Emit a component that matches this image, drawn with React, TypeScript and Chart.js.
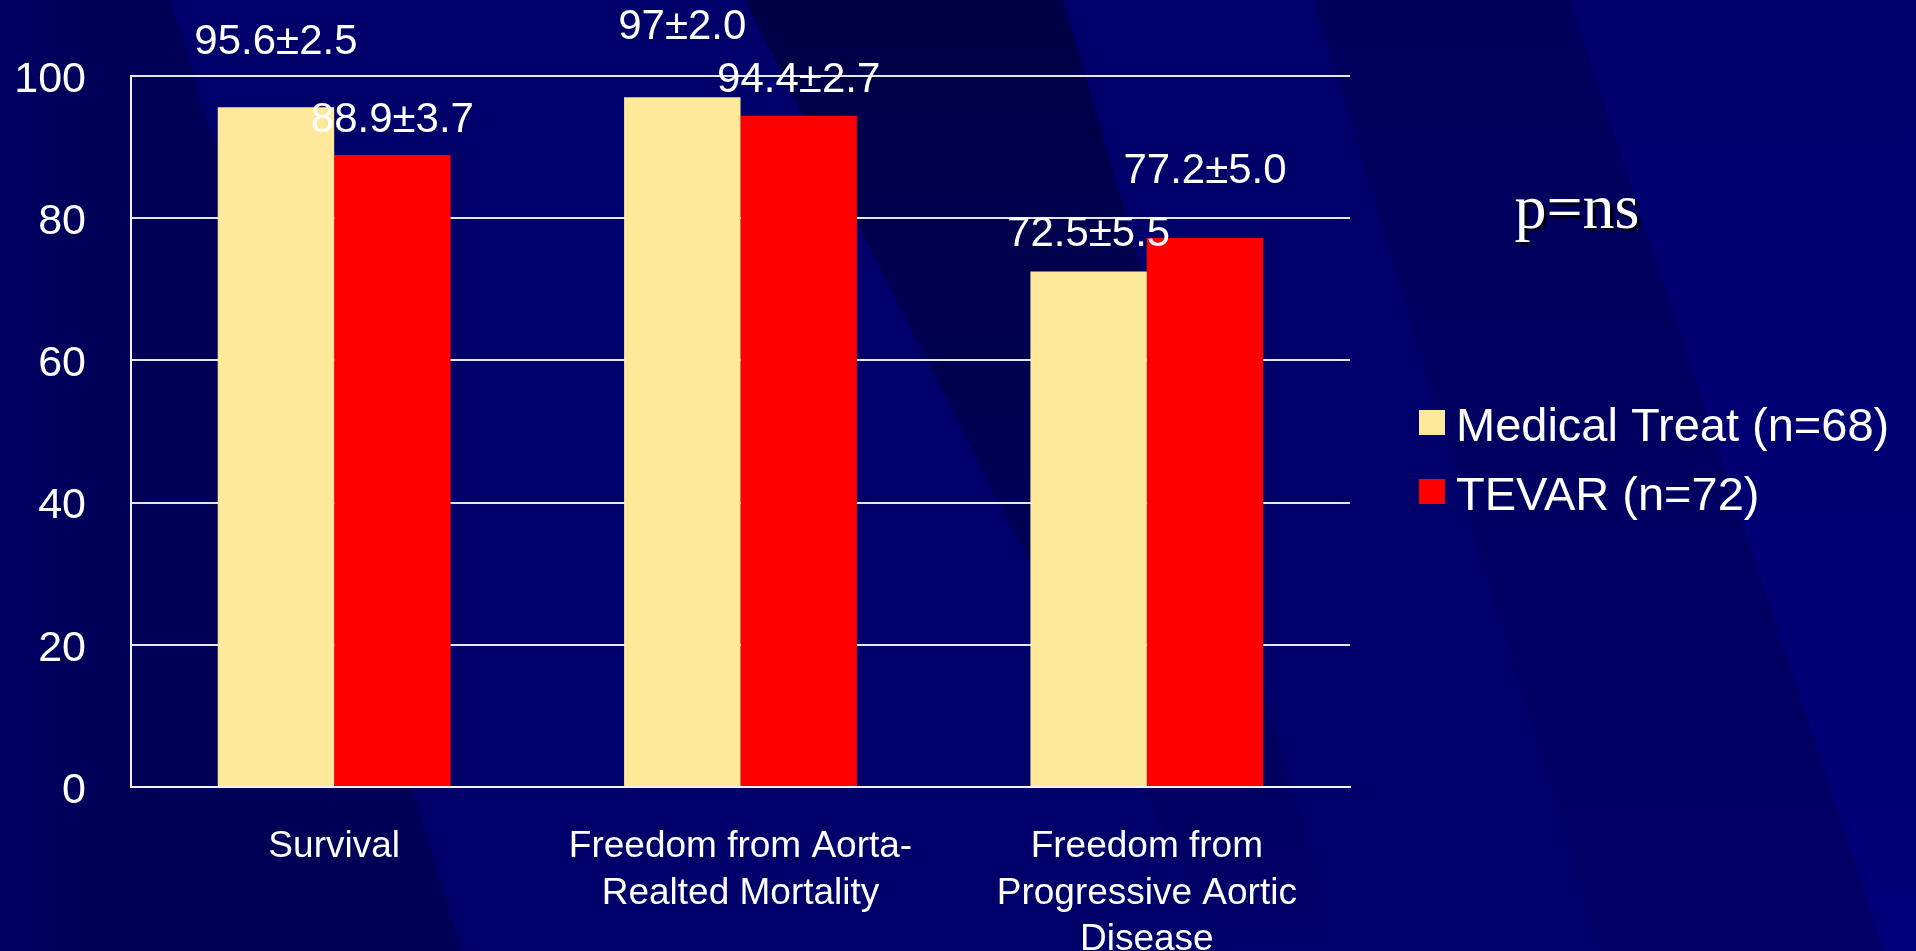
import { useEffect, useRef } from "react";
import { Chart, registerables } from "chart.js";

Chart.register(...registerables);

// Outcome categories (multi-line axis labels)
const categories: string[][] = [
  ["Survival"],
  ["Freedom from Aorta-", "Realted Mortality"],
  ["Freedom from", "Progressive Aortic", "Disease"],
];

// Series
const medicalLabel = "Medical Treat (n=68)";
const tevarLabel = "TEVAR (n=72)";
const medicalValues = [95.6, 97, 72.5];
const tevarValues = [88.9, 94.4, 77.2];
const medicalErrors = [2.5, 2.0, 5.5];
const tevarErrors = [3.7, 2.7, 5.0];

// Value axis
const yMin = 0;
const yMax = 100;
const yStep = 20;

const pValueText = "p=ns";

// Vertical lift (px) of each value label above its bar
const medicalLabelLift = [65, 70, 37];
const tevarLabelLift = [34, 35, 67];

const MEDICAL_COLOR = "#FEE99B";
const TEVAR_COLOR = "#FF0000";
const SANS = '"Liberation Sans", Arial, Helvetica, sans-serif';
const SERIF = '"Liberation Serif", "Times New Roman", serif';

const W = 1916;
const H = 951;

const fmt = (v: number, e: number) => `${v}±${e.toFixed(1)}`;

// Slide backdrop: navy with diagonal bands
const backdropPlugin = {
  id: "backdrop",
  beforeDraw(chart: Chart) {
    const ctx = chart.ctx;
    ctx.save();
    ctx.fillStyle = "#00006a";
    ctx.fillRect(0, 0, W, H);

    const poly = (pts: number[][], fill: string | CanvasGradient) => {
      ctx.beginPath();
      ctx.moveTo(pts[0][0], pts[0][1]);
      for (let i = 1; i < pts.length; i++) ctx.lineTo(pts[i][0], pts[i][1]);
      ctx.closePath();
      ctx.fillStyle = fill;
      ctx.fill();
    };

    const left = ctx.createLinearGradient(0, 0, 120, 0);
    left.addColorStop(0, "#000062");
    left.addColorStop(1, "#000056");
    poly([[0, 0], [170, 0], [462, H], [0, H]], left);

    const wedge = ctx.createLinearGradient(0, 0, 0, H);
    wedge.addColorStop(0, "#000046");
    wedge.addColorStop(0.6, "#000056");
    wedge.addColorStop(1, "#00006a");
    poly([[745, 0], [1063, 0], [1339, H], [1226, H]], wedge);

    const band = ctx.createLinearGradient(0, 0, 0, H);
    band.addColorStop(0, "#00005c");
    band.addColorStop(1, "#000066");
    poly([[1314, 0], [1570, 0], [1884, H], [1600, H]], band);

    const right = ctx.createLinearGradient(0, 0, 0, H);
    right.addColorStop(0, "#00006e");
    right.addColorStop(1, "#000078");
    poly([[1570, 0], [W, 0], [W, H], [1884, H]], right);
    ctx.restore();
  },
};

// Value ± error labels above bars, the p-value note and the legend
const annotationPlugin = {
  id: "annotations",
  afterDatasetsDraw(chart: Chart) {
    const ctx = chart.ctx;
    const errors = [medicalErrors, tevarErrors];
    const lifts = [medicalLabelLift, tevarLabelLift];
    ctx.save();
    ctx.fillStyle = "#ffffff";
    ctx.textAlign = "center";
    ctx.textBaseline = "middle";
    ctx.font = `42px ${SANS}`;
    chart.data.datasets.forEach((ds, di) => {
      const meta = chart.getDatasetMeta(di);
      meta.data.forEach((bar: any, i) => {
        const v = ds.data[i] as number;
        ctx.fillText(fmt(v, errors[di][i]), bar.x, bar.y - lifts[di][i]);
      });
    });
    ctx.restore();
  },
  afterDraw(chart: Chart) {
    const ctx = chart.ctx;
    ctx.save();
    // p-value note
    ctx.font = `64px ${SERIF}`;
    ctx.textAlign = "center";
    ctx.textBaseline = "alphabetic";
    ctx.shadowColor = "rgba(0,0,0,0.85)";
    ctx.shadowOffsetX = 3;
    ctx.shadowOffsetY = 3;
    ctx.shadowBlur = 2;
    ctx.fillStyle = "#ffffff";
    ctx.fillText(pValueText, 1577, 228);
    ctx.restore();

    // legend
    ctx.save();
    ctx.font = `47px ${SANS}`;
    ctx.textAlign = "left";
    ctx.textBaseline = "alphabetic";
    const rows = [
      { top: 410, base: 441 },
      { top: 479, base: 510 },
    ];
    chart.data.datasets.forEach((ds, di) => {
      const r = rows[di];
      ctx.fillStyle = ds.backgroundColor as string;
      ctx.fillRect(1419, r.top, 26, 25);
      ctx.fillStyle = "#ffffff";
      ctx.fillText(ds.label as string, 1456, r.base);
    });
    ctx.restore();
  },
};

export default function App() {
  const canvasRef = useRef<HTMLCanvasElement | null>(null);

  useEffect(() => {
    document.body.style.margin = "0";
    document.body.style.background = "#00006a";
    const canvas = canvasRef.current;
    if (!canvas) return;

    const chart = new Chart(canvas, {
      type: "bar",
      data: {
        labels: categories,
        datasets: [
          {
            label: medicalLabel,
            data: medicalValues,
            backgroundColor: MEDICAL_COLOR,
            borderWidth: 0,
          },
          {
            label: tevarLabel,
            data: tevarValues,
            backgroundColor: TEVAR_COLOR,
            borderWidth: 0,
          },
        ],
      },
      options: {
        responsive: false,
        animation: false,
        devicePixelRatio: 1,
        layout: { padding: { top: 76, right: 566, bottom: 0, left: 0 } },
        datasets: { bar: { categoryPercentage: 0.573, barPercentage: 1 } },
        plugins: {
          legend: { display: false },
          tooltip: { enabled: false },
        },
        scales: {
          x: {
            grid: { display: false, drawTicks: false },
            border: { display: true, color: "#f4f4f8", width: 2 },
            ticks: {
              color: "#ffffff",
              padding: 37,
              maxRotation: 0,
              autoSkip: false,
              font: { family: SANS, size: 37, lineHeight: 1.25 },
            },
            afterFit: (scale: any) => {
              scale.height = H - 787;
            },
          },
          y: {
            min: yMin,
            max: yMax,
            ticks: {
              stepSize: yStep,
              color: "#ffffff",
              padding: 45,
              labelOffset: 4,
              font: { family: SANS, size: 43 },
            },
            grid: { color: "#e6e6ee", lineWidth: 2, drawTicks: false },
            border: { display: true, color: "#f4f4f8", width: 2 },
            afterFit: (scale: any) => {
              scale.width = 131;
            },
          },
        },
      },
      plugins: [backdropPlugin, annotationPlugin],
    });

    return () => chart.destroy();
  }, []);

  return (
    <div style={{ width: W, height: H, overflow: "hidden" }}>
      <canvas ref={canvasRef} width={W} height={H} style={{ display: "block", width: W, height: H }} />
    </div>
  );
}
